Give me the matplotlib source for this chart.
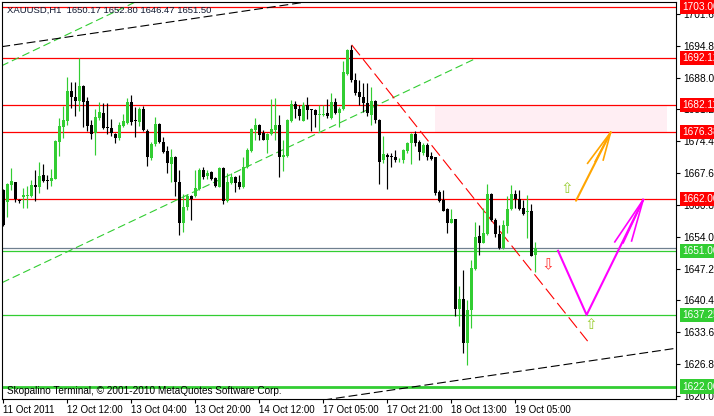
import matplotlib
matplotlib.use('Agg')
import matplotlib.pyplot as plt
from matplotlib.patches import Rectangle

plt.rcParams['font.family'] = ['Liberation Sans', 'DejaVu Sans']
plt.rcParams['font.size'] = 7.2

# XAUUSD H1 candles, bar index 0 = 11 Oct 2011 20:00
opens = [1664.0, 1661.5, 1665.1, 1665.6, 1661.9, 1662.4, 1662.7, 1662.7, 1665.1, 1664.7,
         1667.2, 1666.1, 1666.0, 1666.4, 1674.3, 1677.4, 1678.8, 1685.1, 1683.8, 1683.0,
         1686.2, 1683.0, 1677.9, 1676.1, 1679.3, 1680.5, 1677.5, 1677.2, 1676.0, 1675.2,
         1677.7, 1678.2, 1682.7, 1678.8, 1678.6, 1681.4, 1676.7, 1670.8, 1673.8, 1678.1,
         1674.2, 1672.3, 1669.5, 1671.1, 1665.8, 1656.9, 1660.3, 1662.6, 1662.6, 1664.1,
         1668.3, 1667.0, 1667.9, 1666.5, 1664.7, 1668.6, 1661.7, 1665.4, 1666.8, 1665.6,
         1664.7, 1668.8, 1672.4, 1676.8, 1677.9, 1676.2, 1674.7, 1675.9, 1676.8, 1677.9,
         1671.1, 1671.3, 1678.8, 1682.4, 1681.4, 1678.8, 1682.2, 1681.1, 1681.1, 1680.0,
         1680.0, 1680.5, 1679.3, 1682.7, 1680.4, 1681.3, 1688.8, 1693.9, 1687.4, 1685.0,
         1683.9, 1682.5, 1680.0, 1682.9, 1679.0, 1670.3, 1671.5, 1671.3, 1671.1, 1670.3,
         1670.3, 1672.4, 1674.0, 1676.0, 1674.3, 1672.0, 1673.6, 1671.3, 1671.0, 1663.6,
         1661.9, 1659.9, 1657.0, 1657.8, 1638.5, 1640.6, 1631.4, 1638.4, 1647.2, 1654.2,
         1652.7, 1654.6, 1663.1, 1657.6, 1654.6, 1651.5, 1656.4, 1659.9, 1663.1, 1662.0,
         1660.1, 1659.2, 1659.5, 1650.17]
highs = [1664.2, 1665.4, 1668.7, 1665.8, 1662.1, 1664.4, 1664.8, 1666.1, 1668.3, 1669.9,
         1669.5, 1667.2, 1668.5, 1674.7, 1679.3, 1681.9, 1688.1, 1687.1, 1687.0, 1692.1,
         1686.4, 1683.9, 1679.0, 1681.4, 1682.8, 1682.5, 1682.5, 1679.1, 1676.1, 1678.6,
         1680.2, 1683.6, 1684.3, 1681.8, 1681.8, 1681.9, 1677.0, 1674.3, 1679.5, 1678.4,
         1675.4, 1673.3, 1672.8, 1671.3, 1668.3, 1663.1, 1663.1, 1662.9, 1668.3, 1668.6,
         1669.0, 1668.3, 1668.1, 1666.8, 1668.8, 1669.0, 1667.6, 1667.7, 1667.0, 1667.2,
         1671.1, 1672.9, 1677.2, 1679.3, 1678.0, 1676.8, 1676.1, 1683.4, 1683.6, 1680.0,
         1674.7, 1679.1, 1683.2, 1683.1, 1682.2, 1682.7, 1683.8, 1681.4, 1681.2, 1682.1,
         1682.1, 1683.4, 1684.8, 1683.6, 1681.8, 1691.6, 1694.1, 1695.0, 1688.9, 1687.5,
         1686.8, 1686.8, 1685.9, 1683.2, 1679.1, 1675.5, 1671.8, 1672.0, 1672.5, 1670.8,
         1672.7, 1674.3, 1676.1, 1676.7, 1674.7, 1674.0, 1674.1, 1672.2, 1671.1, 1663.9,
         1663.9, 1660.1, 1659.9, 1657.8, 1643.5, 1646.9, 1640.5, 1649.0, 1657.2, 1656.5,
         1660.1, 1665.3, 1663.3, 1657.9, 1656.5, 1657.6, 1662.6, 1665.1, 1664.0, 1664.0,
         1661.9, 1662.9, 1661.1, 1652.80]
lows = [1656.3, 1658.2, 1664.0, 1661.5, 1661.2, 1660.2, 1660.2, 1662.4, 1661.6, 1663.4,
        1665.8, 1664.1, 1664.9, 1666.3, 1671.3, 1675.2, 1677.9, 1681.6, 1679.8, 1680.9,
        1677.5, 1676.7, 1674.9, 1671.5, 1679.0, 1677.0, 1676.0, 1675.6, 1674.1, 1674.7,
        1677.4, 1678.1, 1677.9, 1675.4, 1677.7, 1676.7, 1669.1, 1670.5, 1673.4, 1674.0,
        1671.8, 1667.7, 1665.6, 1662.6, 1654.4, 1655.1, 1659.7, 1657.6, 1662.4, 1664.0,
        1666.3, 1666.3, 1666.1, 1664.7, 1664.6, 1660.9, 1661.5, 1665.3, 1663.6, 1664.1,
        1664.5, 1668.6, 1672.2, 1674.7, 1674.7, 1674.7, 1671.8, 1675.7, 1674.7, 1666.8,
        1668.1, 1671.1, 1678.6, 1679.3, 1679.0, 1678.7, 1679.1, 1676.7, 1677.4, 1676.5,
        1679.8, 1679.3, 1679.1, 1680.2, 1677.5, 1681.1, 1688.6, 1687.1, 1684.3, 1682.2,
        1680.7, 1679.7, 1677.9, 1678.2, 1665.3, 1669.8, 1664.1, 1668.8, 1670.0, 1670.0,
        1669.7, 1671.8, 1669.5, 1673.4, 1670.3, 1671.5, 1670.3, 1670.3, 1662.9, 1661.5,
        1659.4, 1654.9, 1656.9, 1637.1, 1634.9, 1629.1, 1626.6, 1634.4, 1646.9, 1650.1,
        1652.6, 1654.4, 1657.4, 1654.0, 1651.3, 1651.3, 1654.7, 1659.7, 1660.1, 1659.7,
        1658.7, 1653.7, 1649.9, 1646.47]
closes = [1656.5, 1665.3, 1665.9, 1662.1, 1661.6, 1663.0, 1662.9, 1665.1, 1664.7, 1667.0,
          1666.0, 1666.0, 1666.6, 1674.5, 1677.7, 1679.0, 1685.1, 1683.8, 1682.9, 1686.2,
          1682.7, 1677.7, 1675.9, 1679.5, 1680.6, 1677.2, 1677.3, 1676.1, 1675.0, 1677.9,
          1678.7, 1682.7, 1678.6, 1678.7, 1681.4, 1676.8, 1671.0, 1673.8, 1678.1, 1674.2,
          1672.2, 1669.7, 1671.1, 1665.6, 1656.9, 1660.4, 1662.6, 1662.0, 1664.4, 1668.3,
          1666.8, 1667.7, 1666.3, 1664.8, 1668.6, 1661.7, 1665.8, 1666.8, 1665.4, 1664.6,
          1668.8, 1672.5, 1677.0, 1677.9, 1675.7, 1674.7, 1676.0, 1677.0, 1677.9, 1671.1,
          1671.5, 1679.0, 1682.4, 1681.3, 1679.7, 1682.2, 1681.0, 1681.0, 1680.0, 1680.2,
          1680.2, 1679.7, 1682.7, 1680.4, 1681.4, 1689.1, 1693.9, 1687.4, 1684.8, 1683.8,
          1682.5, 1680.5, 1682.9, 1679.0, 1670.0, 1671.7, 1671.0, 1671.0, 1670.3, 1670.5,
          1672.5, 1674.1, 1676.0, 1674.1, 1672.2, 1673.6, 1671.1, 1670.6, 1663.4, 1661.7,
          1659.6, 1657.0, 1657.8, 1638.5, 1640.6, 1631.4, 1638.4, 1647.3, 1654.0, 1652.7,
          1654.9, 1663.1, 1657.6, 1654.6, 1651.5, 1656.5, 1659.9, 1663.1, 1662.0, 1659.9,
          1658.9, 1659.5, 1649.9, 1651.50]

time_ticks = [0, 16, 32, 48, 64, 80, 96, 112, 128]
time_labels = ['11 Oct 2011', '12 Oct 12:00', '13 Oct 04:00', '13 Oct 20:00', '14 Oct 12:00',
               '17 Oct 05:00', '17 Oct 21:00', '18 Oct 13:00', '19 Oct 05:00']
price_ticks = [1620.00, 1626.80, 1633.60, 1640.40, 1647.20, 1654.00, 1660.80,
               1667.60, 1674.40, 1681.20, 1688.00, 1694.80, 1701.60]

red_levels = [1703.00, 1692.12, 1682.11, 1676.38, 1662.00]
green_levels = [1651.00, 1637.25, 1622.00]
bid_price = 1651.50

# pink zone (bars, prices)
zone_x = [108, 166]
zone_y = [1676.38, 1682.11]

# trend lines: (bar, price) end points
green_low_line = [(-0.3, 1644.2), (118.2, 1692.12)]
green_up_line = [(-0.5, 1690.5), (40, 1707.0)]
black_up_line = [(-0.5, 1694.6), (80, 1704.7)]
black_low_line = [(80, 1619.1), (170, 1630.4)]
red_line = [(87.1, 1695.0), (146.1, 1631.7)]

orange_x = [143.2, 151.85]
orange_y = [1661.7, 1676.3]
orange_head_x = [146.1, 148.0, 150.0]
orange_head_y = [1669.7, 1670.1, 1670.4]

magenta_x = [138.7, 145.85, 160.0]
magenta_y = [1651.0, 1637.3, 1661.9]
magenta_head_x = [152.9, 155.0, 157.1]
magenta_head_y = [1652.9, 1652.7, 1653.1]

arrow_marks = [(140.9, 1664.4, '\u21e7', '#9acd32'),
               (136.25, 1648.0, '\u21e9', '#ff3030'),
               (146.9, 1635.2, '\u21e7', '#9acd32')]

W, H = 714, 416
fig = plt.figure(figsize=(W / 100, H / 100), dpi=100)
ax = fig.add_axes([2 / W, 1 - 399 / H, 674 / W, 397 / H])
ax.set_xlim(-0.33, 168.2)
ax.set_ylim(1619.33, 1704.16)

lime = '#32cd32'

# background zone
ax.add_patch(Rectangle((zone_x[0], zone_y[0]), zone_x[1] - zone_x[0], zone_y[1] - zone_y[0],
                       facecolor='#ffeef3', edgecolor='none', zorder=0))

for lv in red_levels:
    ax.axhline(lv, color='red', lw=0.9, zorder=1)
for lv in green_levels:
    ax.axhline(lv, color=lime, lw=2.0 if lv == 1622.00 else 0.9, zorder=1)
ax.axhline(bid_price, color='#708090', lw=0.9, zorder=1)

def dashed(pts, color, dashes):
    (x0, y0), (x1, y1) = pts
    ax.plot([x0, x1], [y0, y1], color=color, lw=0.8, dashes=dashes, zorder=2)

dashed(green_low_line, lime, (7, 3.5))
dashed(green_up_line, lime, (7, 3.5))
dashed(black_up_line, 'black', (8, 3.5))
dashed(black_low_line, 'black', (8, 3.5))
dashed(red_line, 'red', (12, 4.5))

# candles
for i in range(len(opens)):
    o, h, l, c = opens[i], highs[i], lows[i], closes[i]
    col = lime if c > o else 'black'
    ax.vlines(i, l, h, color=col, lw=0.85, zorder=4)
    ax.bar(i, max(abs(c - o), 0.2), bottom=min(o, c), width=0.78, color=col, lw=0, zorder=5)

# drawn arrows
ax.plot(orange_x, orange_y, color='#ffa500', lw=1.5, zorder=6, solid_capstyle='round')
for hx, hy in zip(orange_head_x, orange_head_y):
    ax.plot([orange_x[-1], hx], [orange_y[-1], hy], color='#ffa500', lw=1.2, zorder=6)
ax.plot(magenta_x, magenta_y, color='#ff00ff', lw=1.5, zorder=6)
for hx, hy in zip(magenta_head_x, magenta_head_y):
    ax.plot([magenta_x[-1], hx], [magenta_y[-1], hy], color='#ff00ff', lw=1.2, zorder=6)

for x, y, s, col in arrow_marks:
    ax.text(x, y, s, color=col, fontsize=11, ha='center', va='center',
            family=['DejaVu Sans'], zorder=7)

# axes styling
for sp in ax.spines.values():
    sp.set_color('black')
    sp.set_linewidth(0.8)
ax.set_facecolor('white')
ax.yaxis.tick_right()
ax.set_yticks(price_ticks)
ax.set_yticklabels([f'{p:.2f}' for p in price_ticks])
ax.tick_params(axis='y', direction='out', length=3, width=0.8, pad=2, labelsize=7.3)
ax.set_xticks(time_ticks)
ax.set_xticklabels(time_labels, ha='left')
ax.tick_params(axis='x', direction='out', length=3, width=0.8, pad=1.5, labelsize=7.0)

# price label boxes on the right scale
for lv in red_levels + green_levels:
    fc = 'red' if lv in red_levels else lime
    ax.annotate(f'{lv:.2f}', xy=(1, lv), xycoords=('axes fraction', 'data'),
                xytext=(6, 0), textcoords='offset pixels', va='center', ha='left',
                color='white', fontsize=7.3,
                bbox=dict(boxstyle='square,pad=0.2', fc=fc, ec='none'),
                annotation_clip=False, zorder=10)

fig.text(7 / W, 1 - 10 / H, 'XAUUSD,H1  1650.17 1652.80 1646.47 1651.50',
         fontsize=6.8, va='center', ha='left', color='#101830')
fig.text(7 / W, 1 - 391 / H, 'Skopalino Terminal, \u00a9 2001-2010 MetaQuotes Software Corp.',
         fontsize=7.2, va='center', ha='left', color='black')

fig.savefig('out.png', dpi=100)
